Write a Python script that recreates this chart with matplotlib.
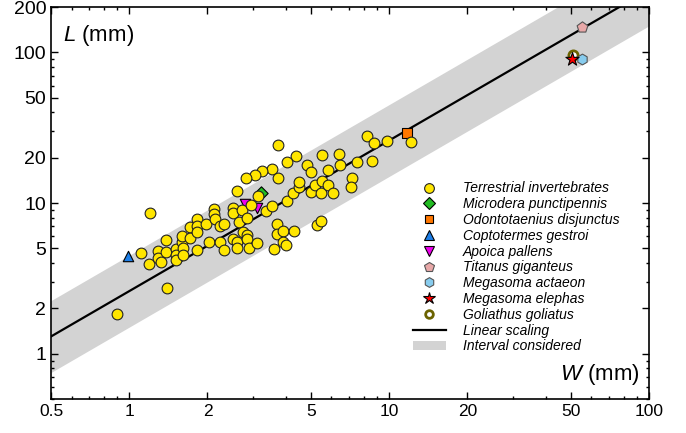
import matplotlib
matplotlib.use("Agg")
import matplotlib.pyplot as plt
import numpy as np
from matplotlib.ticker import FixedLocator, LogLocator, NullFormatter, FuncFormatter
from matplotlib.patches import Patch
from matplotlib.lines import Line2D

plt.rcParams['font.family'] = ['Liberation Sans', 'DejaVu Sans']
plt.rcParams['mathtext.fontset'] = 'custom'
plt.rcParams['mathtext.rm'] = 'Liberation Sans'
plt.rcParams['mathtext.it'] = 'Liberation Sans:italic'

# Terrestrial invertebrates (W, L) in mm
terr_W = [0.9, 1.2, 1.11, 1.19, 1.29, 1.29, 1.33, 1.39, 1.39, 1.40, 1.51, 1.51, 1.51,
          1.59, 1.60, 1.61, 1.61, 1.71, 1.72, 1.82, 1.82, 1.82, 1.83, 1.97, 2.02, 2.11,
          2.11, 2.14, 2.23, 2.23, 2.32, 2.32, 2.51, 2.51, 2.51, 2.6, 2.6, 2.65, 2.71,
          2.74, 2.83, 2.85, 2.85, 2.9, 2.94, 3.11, 3.36, 3.53, 3.61, 3.69, 3.69, 3.9,
          3.91, 4.01, 4.03, 4.3, 5.26, 5.45, 3.75, 4.38, 4.03, 3.55, 3.23, 3.05, 2.81,
          3.73, 2.6, 3.13, 4.28, 4.5, 4.5, 4.84, 5.02, 5.02, 5.19, 5.5, 5.5, 5.48, 5.83,
          5.8, 6.1, 6.43, 6.47, 7.54, 8.57, 8.24, 8.77, 9.79, 12.1, 7.18, 7.13]
terr_L = [1.82, 8.6, 4.65, 3.93, 4.77, 4.31, 4.03, 5.7, 4.72, 2.72, 4.94, 4.53, 4.2,
          5.5, 6.06, 5.02, 4.53, 6.88, 5.85, 7.86, 6.99, 6.41, 4.89, 7.25, 5.55, 9.16,
          8.49, 7.86, 6.99, 5.55, 7.28, 4.84, 9.27, 8.58, 5.76, 5.55, 5.02, 7.43, 8.93,
          6.41, 6.15, 7.95, 5.76, 5.02, 9.64, 5.42, 8.79, 9.49, 4.94, 7.28, 6.22, 6.54,
          5.55, 5.23, 10.25, 6.54, 7.17, 7.63, 24.15, 20.4, 18.6, 16.8, 16.4, 15.4, 14.7,
          14.7, 12.07, 11.06, 11.65, 12.8, 13.7, 17.9, 16.1, 11.76, 13.2, 13.9, 20.7, 11.65,
          13.09, 16.65, 11.65, 21.3, 17.8, 18.6, 19.1, 27.7, 25.05, 25.7, 25.4, 14.7, 12.8]

# Individual species (W, L)
microdera_W, microdera_L = [3.2], [11.6]
odonto_W, odonto_L = [11.74], [29.2]
copto_W, copto_L = [0.99], [4.42]
apoica_W, apoica_L = [2.8, 3.1], [9.9, 9.3]
titanus_W, titanus_L = [55.1], [148]
actaeon_W, actaeon_L = [55.1], [90.7]
elephas_W, elephas_L = [50.4], [89.7]
goliath_W, goliath_L = [51.1], [95.8]

# scaling L = k W and interval
k_line = 2.6
k_low, k_high = 1.5, 4.5

x_ticks = [0.5, 1, 2, 5, 10, 20, 50, 100]
y_ticks = [1, 2, 5, 10, 20, 50, 100, 200]

fig = plt.figure(figsize=(6.86, 4.33), dpi=100)
ax = fig.add_axes([51/686, 1 - 399/433, 598/686, 392/433])
ax.set_xscale('log')
ax.set_yscale('log')
ax.set_xlim(0.5, 100)
ax.set_ylim(0.5, 200)

wx = np.array([0.5, 100])
ax.fill_between(wx, k_low * wx, k_high * wx, color='#d3d3d3', lw=0, zorder=1)
ax.plot(wx, k_line * wx, color='black', lw=1.6, zorder=2)

ew = 0.8
ax.scatter(microdera_W, microdera_L, marker='D', s=46, c='#22bb22', edgecolors='black', linewidths=ew, zorder=3)
ax.scatter(odonto_W, odonto_L, marker='s', s=50, c='#ff7700', edgecolors='black', linewidths=ew, zorder=3)
ax.scatter(copto_W, copto_L, marker='^', s=56, c='#1e7fe8', edgecolors='black', linewidths=ew, zorder=3)
ax.scatter(apoica_W, apoica_L, marker='v', s=56, c='#ee00ee', edgecolors='black', linewidths=ew, zorder=3)
ax.scatter(terr_W, terr_L, marker='o', s=60, c='#ffe600', edgecolors='#222222', linewidths=ew, zorder=4)
ax.scatter(titanus_W, titanus_L, marker='p', s=66, c='#e8a8a8', edgecolors='#555555', linewidths=ew, zorder=5)
ax.scatter(goliath_W, goliath_L, marker='o', s=44, c='white', edgecolors='#6b6300', linewidths=2, zorder=5)
ax.scatter(actaeon_W, actaeon_L, marker='h', s=60, c='#88ccee', edgecolors='#555555', linewidths=ew, zorder=5)
ax.scatter(elephas_W, elephas_L, marker='*', s=100, c='#ff0000', edgecolors='black', linewidths=ew, zorder=6)

ax.xaxis.set_major_locator(FixedLocator(x_ticks))
ax.yaxis.set_major_locator(FixedLocator(y_ticks))
ax.xaxis.set_minor_locator(LogLocator(base=10, subs=np.arange(2, 10)))
ax.yaxis.set_minor_locator(LogLocator(base=10, subs=np.arange(2, 10)))
fmt = FuncFormatter(lambda v, p: ('%g' % v))
ax.xaxis.set_major_formatter(fmt)
ax.yaxis.set_major_formatter(fmt)
ax.xaxis.set_minor_formatter(NullFormatter())
ax.yaxis.set_minor_formatter(NullFormatter())
ax.tick_params(which='both', direction='in', top=True, right=True, width=1)
ax.tick_params(axis='x', labelsize=12.5)
ax.tick_params(axis='y', labelsize=14)
ax.tick_params(which='major', length=5)
ax.tick_params(which='minor', length=2.5)
for s in ax.spines.values():
    s.set_linewidth(1.2)

ax.text(0.02, 0.96, r'$\mathit{L}$ (mm)', transform=ax.transAxes, fontsize=16, ha='left', va='top')
ax.text(0.985, 0.03, r'$\mathit{W}$ (mm)', transform=ax.transAxes, fontsize=16, ha='right', va='bottom')

handles = [
    Line2D([], [], ls='', marker='o', ms=7, mfc='#ffe600', mec='#222222', mew=ew),
    Line2D([], [], ls='', marker='D', ms=6, mfc='#22bb22', mec='black', mew=ew),
    Line2D([], [], ls='', marker='s', ms=6, mfc='#ff7700', mec='black', mew=ew),
    Line2D([], [], ls='', marker='^', ms=7, mfc='#1e7fe8', mec='black', mew=ew),
    Line2D([], [], ls='', marker='v', ms=7, mfc='#ee00ee', mec='black', mew=ew),
    Line2D([], [], ls='', marker='p', ms=7, mfc='#e8a8a8', mec='#555555', mew=ew),
    Line2D([], [], ls='', marker='h', ms=7, mfc='#88ccee', mec='#555555', mew=ew),
    Line2D([], [], ls='', marker='*', ms=9, mfc='#ff0000', mec='black', mew=ew),
    Line2D([], [], ls='', marker='o', ms=5.5, mfc='white', mec='#6b6300', mew=2),
    Line2D([], [], color='black', lw=1.6),
    Patch(facecolor='#d3d3d3', edgecolor='none'),
]
labels = ['Terrestrial invertebrates', 'Microdera punctipennis', 'Odontotaenius disjunctus',
          'Coptotermes gestroi', 'Apoica pallens', 'Titanus giganteus', 'Megasoma actaeon',
          'Megasoma elephas', 'Goliathus goliatus', 'Linear scaling', 'Interval considered']
leg = ax.legend(handles, labels, loc='upper left', bbox_to_anchor=(0.605, 0.555),
                frameon=False, borderpad=0, borderaxespad=0, handlelength=2.4,
                handletextpad=1.2, labelspacing=0.13,
                prop={'family': 'Liberation Sans', 'style': 'italic', 'size': 10})

fig.savefig('out.png', dpi=100)
